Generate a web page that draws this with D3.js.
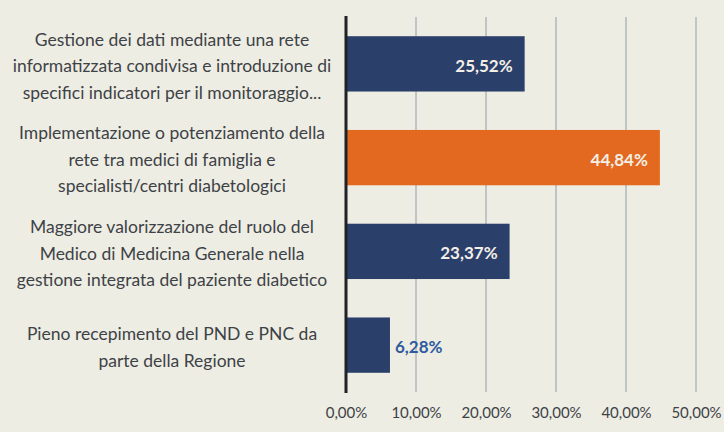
<!DOCTYPE html>
<html>
<head>
<meta charset="utf-8">
<script src="https://cdn.jsdelivr.net/npm/d3@7"></script>
<style>
  html, body { margin: 0; padding: 0; background: #eeede3; }
  svg { display: block; }
</style>
</head>
<body>
<svg id="chart" width="724" height="432"></svg>
<script>
// categories, wrapped as in the source
const categories = [
    ["Gestione dei dati mediante una rete", "informatizzata condivisa e introduzione di", "specifici indicatori per il monitoraggio..."],
    ["Implementazione o potenziamento della", "rete tra medici di famiglia e", "specialisti/centri diabetologici"],
    ["Maggiore valorizzazione del ruolo del", "Medico di Medicina Generale nella", "gestione integrata del paziente diabetico"],
    ["Pieno recepimento del PND e PNC da", "parte della Regione"]
];
const values = [25.52, 44.84, 23.37, 6.28];
const highlighted = [false, true, false, false];
const xTicks = [0, 10, 20, 30, 40, 50];

const itLocale = d3.formatLocale({ decimal: ",", thousands: ".", grouping: [3], currency: ["", "€"] });
const fmt = d => itLocale.format(".2f")(d) + "%";

const svg = d3.select("#chart");
const font = "Lato, 'Open Sans', sans-serif";

const x = d3.scaleLinear().domain([0, 50]).range([346, 696]);
const y = d3.scaleBand()
    .domain(d3.range(values.length))
    .range([17, 392])
    .paddingInner(0.41)
    .paddingOuter(0.205);

// vertical grid lines
svg.append("g")
    .selectAll("line")
    .data(xTicks.slice(1))
    .join("line")
    .attr("x1", d => x(d)).attr("x2", d => x(d))
    .attr("y1", 17).attr("y2", 392)
    .attr("stroke", "#8f9ca6")
    .attr("stroke-width", 1);

// tick labels
const xAxis = svg.append("g")
    .attr("transform", "translate(0,404)")
    .call(d3.axisBottom(x).tickValues(xTicks).tickFormat(fmt).tickSize(0));
xAxis.select(".domain").remove();
xAxis.selectAll("text")
    .attr("fill", "#3d4247")
    .style("font-family", font)
    .style("font-size", "15px");

// bars
svg.append("g")
    .selectAll("rect")
    .data(values)
    .join("rect")
    .attr("x", x(0))
    .attr("y", (d, i) => y(i))
    .attr("width", d => x(d) - x(0))
    .attr("height", y.bandwidth())
    .attr("fill", (d, i) => highlighted[i] ? "#e2691f" : "#2b3f6b");

// value labels
svg.append("g")
    .selectAll("text")
    .data(values)
    .join("text")
    .attr("x", d => x(d) - x(0) > 60 ? x(d) - 12 : x(d) + 5)
    .attr("y", (d, i) => y(i) + y.bandwidth() / 2 + 2)
    .attr("dy", "0.35em")
    .attr("text-anchor", d => x(d) - x(0) > 60 ? "end" : "start")
    .attr("fill", d => x(d) - x(0) > 60 ? "#f4efe6" : "#2e5b9e")
    .style("font-family", font)
    .style("font-weight", "bold")
    .style("font-size", "17px")
    .text(fmt);

// zero axis line
svg.append("line")
    .attr("x1", x(0)).attr("x2", x(0))
    .attr("y1", 16).attr("y2", 393)
    .attr("stroke", "#1f2326")
    .attr("stroke-width", 3);

// category labels
const lineH = 26.5;
const labels = svg.append("g")
    .selectAll("text")
    .data(categories)
    .join("text")
    .attr("text-anchor", "middle")
    .attr("fill", "#3d4247")
    .style("font-family", font)
    .style("font-size", "17.5px");

labels.each(function (lines, i) {
    const cy = y(i) + y.bandwidth() / 2 + 2;
    const top = cy - (lines.length - 1) * lineH / 2;
    d3.select(this).selectAll("tspan")
        .data(lines)
        .join("tspan")
        .attr("x", 172)
        .attr("y", (l, j) => top + j * lineH)
        .attr("dy", "0.35em")
        .text(l => l);
});
</script>
</body>
</html>
